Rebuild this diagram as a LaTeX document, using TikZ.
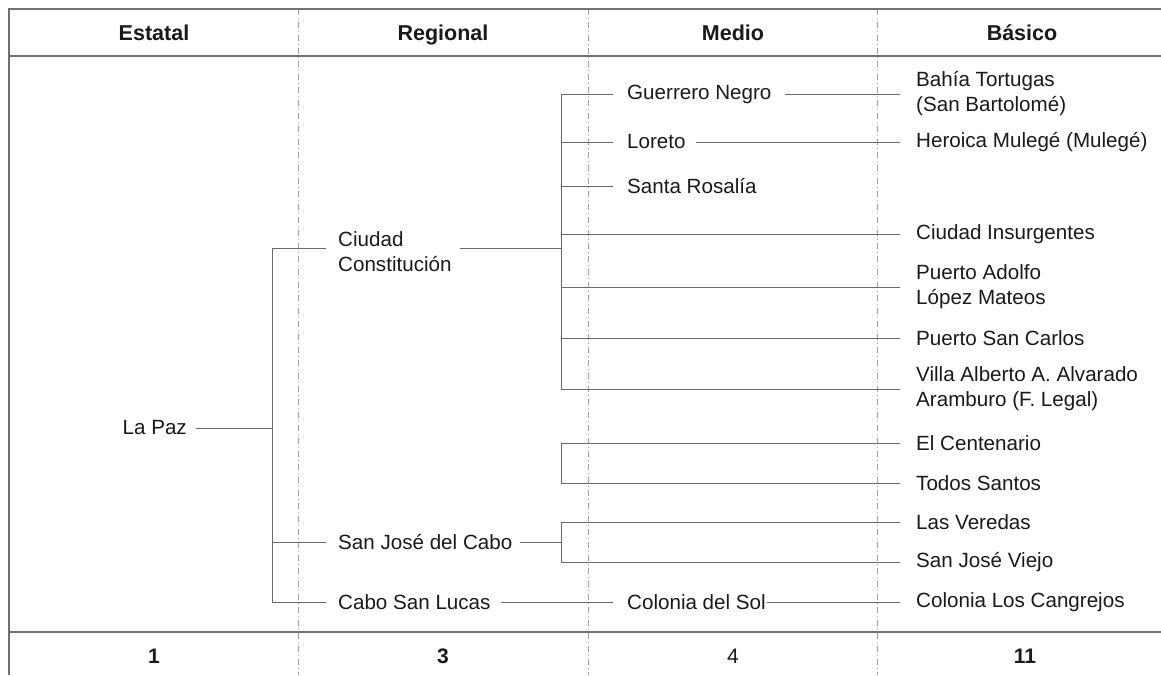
\documentclass[tikz,border=0pt]{standalone}
\usepackage{fontspec}
\setmainfont{Liberation Sans}
\definecolor{linegray}{HTML}{6A6A6A}
\definecolor{framegray}{HTML}{707070}
\definecolor{dashgray}{HTML}{A0A0A0}
\definecolor{txt}{HTML}{1A1A1A}
\begin{document}
\begin{tikzpicture}[x=1pt,y=-1pt,
  lbl/.style={font=\fontsize{20.6}{25}\selectfont, inner sep=0pt, anchor=west, align=left, text=txt},
  head/.style={font=\fontsize{21.5}{25}\selectfont\bfseries, inner sep=0pt, anchor=base, text=txt},
  num/.style={font=\fontsize{21}{25}\selectfont, inner sep=0pt, anchor=base, text=txt},
  numb/.style={num, font=\fontsize{21}{25}\selectfont\bfseries},
  conn/.style={draw=linegray, line width=0.9pt},
  frameline/.style={draw=framegray, line width=1.6pt},
  colsep/.style={draw=dashgray, line width=0.8pt, dash pattern=on 6pt off 3pt on 1pt off 3pt}]
\useasboundingbox (0,0) rectangle (1161,675);
\fill[white] (0,0) rectangle (1161,675);

% column separators
\coordinate (s1t) at (298,9); \coordinate (s1b) at (298,675);
\coordinate (s2t) at (588,9); \coordinate (s2b) at (588,675);
\coordinate (s3t) at (877,9); \coordinate (s3b) at (877,675);
\draw[colsep] (s1t) -- (s1b);
\draw[colsep] (s2t) -- (s2b);
\draw[colsep] (s3t) -- (s3b);

% frame
\coordinate (tl) at (9,9); \coordinate (tr) at (1161,9);
\coordinate (hl) at (9,56); \coordinate (hr) at (1161,56);
\coordinate (fl) at (9,632); \coordinate (fr) at (1161,632);
\coordinate (bl) at (9,675);
\draw[frameline] (tr) -- (tl) -- (bl);
\draw[frameline] (hl) -- (hr);
\draw[frameline] (fl) -- (fr);

% headers
\node[head] (h1) at (154,40) {Estatal};
\node[head] (h2) at (443,40) {Regional};
\node[head] (h3) at (733,40) {Medio};
\node[head] (h4) at (1022,40) {Básico};

% footers
\node[numb] (f1) at (154,663) {1};
\node[numb] (f2) at (443,663) {3};
\node[num] (f3) at (733,663) {4};
\node[numb] (f4) at (1025,663) {11};

% Estatal
\node[lbl,anchor=east] (lapaz) at (187,428) {La Paz};

% Regional
\node[lbl] (ciudad) at (338,252) {Ciudad\\Constitución};
\node[lbl] (sjc) at (338,542) {San José del Cabo};
\node[lbl] (csl) at (338,602) {Cabo San Lucas};

% Medio
\node[lbl] (gn) at (627,94) {Guerrero Negro};
\node[lbl] (lor) at (627,142) {Loreto};
\node[lbl] (sr) at (627,186) {Santa Rosalía};
\node[lbl] (cds) at (627,602) {Colonia del Sol};

% Basico
\node[lbl] (bt) at (916,94) {Bahía Tortugas\\(San Bartolomé)};
\node[lbl] (hm) at (916,142) {Heroica Mulegé (Mulegé)};
\node[lbl] (ci) at (916,234) {Ciudad Insurgentes};
\node[lbl] (pa) at (916,287) {Puerto Adolfo\\López Mateos};
\node[lbl] (psc) at (916,338) {Puerto San Carlos};
\node[lbl] (va) at (916,389) {Villa Alberto A. Alvarado\\Aramburo (F. Legal)};
\node[lbl] (ec) at (916,443) {El Centenario};
\node[lbl] (ts) at (916,483) {Todos Santos};
\node[lbl] (lv) at (916,522) {Las Veredas};
\node[lbl] (sjv) at (916,562) {San José Viejo};
\node[lbl] (clc) at (916,602) {Colonia Los Cangrejos};

% bracket coordinates
\coordinate (estT) at (272,248);
\coordinate (estB) at (272,602);
\coordinate (medT) at (561,94);
\coordinate (medB) at (561,389);
\coordinate (ecT) at (561,443);
\coordinate (ecB) at (561,483);
\coordinate (sjT) at (561,522);
\coordinate (sjB) at (561,562);

% Estatal -> Regional
\draw[conn] ([xshift=9pt]lapaz.east) -- (lapaz.east -| estT);
\draw[conn] (estT) -- (estB);
\draw[conn] (estT) -- ([xshift=-12pt]estT -| ciudad.west);
\draw[conn] (estT |- sjc) -- ([xshift=-12pt]sjc.west);
\draw[conn] (estB) -- ([xshift=-12pt]csl.west);

% Ciudad Constitucion -> Medio
\draw[conn] ([xshift=8pt]estT -| ciudad.east) -- (estT -| medT);
\draw[conn] (medT) -- (medB);
\draw[conn] (medT) -- ([xshift=-14pt]gn.west);
\draw[conn] ([xshift=13pt]gn.east) -- ([xshift=-16pt]bt.west);
\draw[conn] (medT |- lor) -- ([xshift=-14pt]lor.west);
\draw[conn] ([xshift=10pt]lor.east) -- ([xshift=-16pt]hm.west);
\draw[conn] (medT |- sr) -- ([xshift=-14pt]sr.west);
\draw[conn] (medT |- ci) -- ([xshift=-16pt]ci.west);
\draw[conn] (medT |- pa) -- ([xshift=-16pt]pa.west);
\draw[conn] (medT |- psc) -- ([xshift=-16pt]psc.west);
\draw[conn] (medB) -- ([xshift=-16pt]va.west);

% El Centenario / Todos Santos
\draw[conn] ([xshift=-16pt]ec.west) -- (ecT) -- (ecB) -- ([xshift=-16pt]ts.west);

% San Jose del Cabo
\draw[conn] ([xshift=8pt]sjc.east) -- (sjc.east -| sjT);
\draw[conn] ([xshift=-16pt]lv.west) -- (sjT) -- (sjB) -- ([xshift=-16pt]sjv.west);

% Cabo San Lucas
\draw[conn] ([xshift=10pt]csl.east) -- ([xshift=-14pt]cds.west);
\draw[conn] ([xshift=1pt]cds.east) -- ([xshift=-16pt]clc.west);
\end{tikzpicture}
\end{document}
